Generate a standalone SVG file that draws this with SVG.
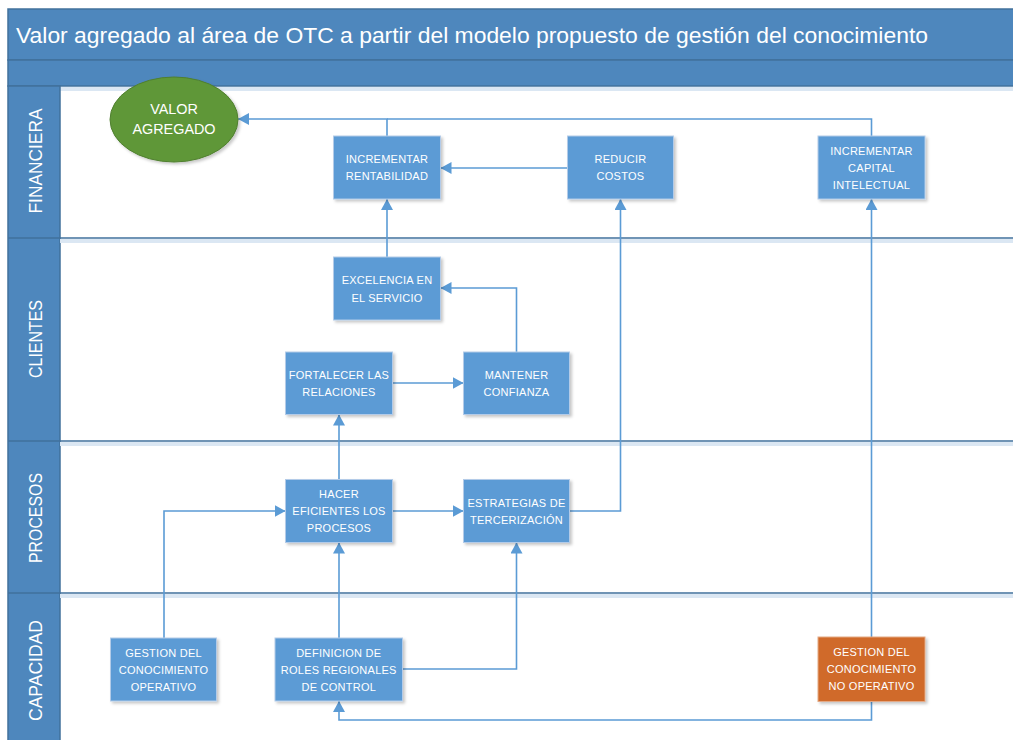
<svg xmlns="http://www.w3.org/2000/svg" width="1013" height="740" viewBox="0 0 1013 740">
<style>
.band{fill:#4e87bd;stroke:#41719c;stroke-width:1.5}
.lane{stroke:#41719c;stroke-width:1.5}
.lshadow{stroke:#dbe7f3;stroke-width:4}
.title{font-family:"Liberation Sans",Arial,sans-serif;font-size:22px;fill:#ffffff}
.lbl{font-family:"Liberation Sans",Arial,sans-serif;font-size:19px;fill:#ffffff;text-anchor:middle}
.box{fill:#5b9bd5;stroke:#b3cbe8;stroke-width:1}
.obox{fill:#d06b29;stroke:#e3a986;stroke-width:1}
.t{font-family:"Liberation Sans",Arial,sans-serif;font-size:11px;letter-spacing:0.25px;fill:#ffffff;text-anchor:middle}
.tv{font-family:"Liberation Sans",Arial,sans-serif;font-size:14.4px;fill:#ffffff;text-anchor:middle}
.c{fill:none;stroke:#5b9bd5;stroke-width:1.6}
</style>
<defs>
<marker id="ah" markerUnits="userSpaceOnUse" markerWidth="12" markerHeight="12" refX="11" refY="6" orient="auto">
<path d="M0,0 L11,6 L0,12 z" fill="#5b9bd5"/>
</marker>
<filter id="sh" x="-20%" y="-20%" width="140%" height="140%">
<feDropShadow dx="2" dy="2" stdDeviation="1.5" flood-color="#000000" flood-opacity="0.22"/>
</filter>
</defs>
<rect width="1013" height="740" fill="#ffffff"/>
<g id="pool">
<rect class="band" x="8" y="9" width="1010" height="51"/>
<rect class="band" x="8" y="60" width="1010" height="26"/>
<line class="lshadow" x1="60" y1="89" x2="1013" y2="89"/>
<rect class="band" x="8" y="86" width="52" height="670"/>
<line class="lshadow" x1="60" y1="241" x2="1013" y2="241"/>
<line class="lshadow" x1="60" y1="444" x2="1013" y2="444"/>
<line class="lshadow" x1="60" y1="596" x2="1013" y2="596"/>
<line class="lane" x1="8" y1="238" x2="1013" y2="238"/>
<line class="lane" x1="8" y1="441" x2="1013" y2="441"/>
<line class="lane" x1="8" y1="593" x2="1013" y2="593"/>
<text class="title" x="16" y="43" textLength="912" lengthAdjust="spacingAndGlyphs">Valor agregado al área de OTC a partir del modelo propuesto de gestión del conocimiento</text>
<text class="lbl" transform="translate(42,161) rotate(-90)" textLength="105" lengthAdjust="spacingAndGlyphs">FINANCIERA</text>
<text class="lbl" transform="translate(42,339) rotate(-90)" textLength="78" lengthAdjust="spacingAndGlyphs">CLIENTES</text>
<text class="lbl" transform="translate(42,518) rotate(-90)" textLength="90" lengthAdjust="spacingAndGlyphs">PROCESOS</text>
<text class="lbl" transform="translate(42,670.5) rotate(-90)" textLength="101" lengthAdjust="spacingAndGlyphs">CAPACIDAD</text>
</g>
<g id="connectors">
<path class="c" d="M164,638 V511 H285.5" marker-end="url(#ah)"/>
<path class="c" d="M339,638 V542.5" marker-end="url(#ah)"/>
<path class="c" d="M402.5,669 H516.5 V542.5" marker-end="url(#ah)"/>
<path class="c" d="M871.5,701.5 V720 H339 V701" marker-end="url(#ah)"/>
<path class="c" d="M871.5,637 V199" marker-end="url(#ah)"/>
<path class="c" d="M392.5,511 H463.5" marker-end="url(#ah)"/>
<path class="c" d="M339,479.5 V414.5" marker-end="url(#ah)"/>
<path class="c" d="M569.5,511 H620.5 V199" marker-end="url(#ah)"/>
<path class="c" d="M392.5,383 H463.5" marker-end="url(#ah)"/>
<path class="c" d="M516.5,352 V288 H440.5" marker-end="url(#ah)"/>
<path class="c" d="M387,257 V199" marker-end="url(#ah)"/>
<path class="c" d="M567.5,168 H440.5" marker-end="url(#ah)"/>
<path class="c" d="M387,136 V119 H238" marker-end="url(#ah)"/>
<path class="c" d="M871.5,136 V119 H387"/>
</g>
<g id="valor-agregado">
<ellipse cx="174" cy="119.5" rx="64" ry="42.5" fill="#5f9738" stroke="#4f7f2f" stroke-width="1" filter="url(#sh)"/>
<text class="tv" x="174" y="114">VALOR</text>
<text class="tv" x="174" y="134">AGREGADO</text>
</g>
<g id="incrementar-rentabilidad">
<rect class="box" x="333.5" y="136" width="107" height="63" filter="url(#sh)"/>
<text class="t" x="387" y="163">INCREMENTAR</text>
<text class="t" x="387" y="180">RENTABILIDAD</text>
</g>
<g id="reducir-costos">
<rect class="box" x="567.5" y="136" width="106" height="63" filter="url(#sh)"/>
<text class="t" x="620.5" y="163">REDUCIR</text>
<text class="t" x="620.5" y="180">COSTOS</text>
</g>
<g id="incrementar-capital">
<rect class="box" x="818" y="136" width="107" height="63" filter="url(#sh)"/>
<text class="t" x="871.5" y="154.5">INCREMENTAR</text>
<text class="t" x="871.5" y="171.5">CAPITAL</text>
<text class="t" x="871.5" y="188.5">INTELECTUAL</text>
</g>
<g id="excelencia-servicio">
<rect class="box" x="333.5" y="257" width="107" height="63" filter="url(#sh)"/>
<text class="t" x="387" y="284">EXCELENCIA EN</text>
<text class="t" x="387" y="301.5">EL SERVICIO</text>
</g>
<g id="fortalecer-relaciones">
<rect class="box" x="285.5" y="352" width="107" height="62.5" filter="url(#sh)"/>
<text class="t" x="339" y="379">FORTALECER LAS</text>
<text class="t" x="339" y="396">RELACIONES</text>
</g>
<g id="mantener-confianza">
<rect class="box" x="463.5" y="352" width="106" height="62.5" filter="url(#sh)"/>
<text class="t" x="516.5" y="379">MANTENER</text>
<text class="t" x="516.5" y="396">CONFIANZA</text>
</g>
<g id="hacer-eficientes">
<rect class="box" x="285.5" y="479.5" width="107" height="63" filter="url(#sh)"/>
<text class="t" x="339" y="498">HACER</text>
<text class="t" x="339" y="515">EFICIENTES LOS</text>
<text class="t" x="339" y="532">PROCESOS</text>
</g>
<g id="estrategias-tercerizacion">
<rect class="box" x="463.5" y="479.5" width="106" height="63" filter="url(#sh)"/>
<text class="t" x="516.5" y="507">ESTRATEGIAS DE</text>
<text class="t" x="516.5" y="524">TERCERIZACIÓN</text>
</g>
<g id="gestion-operativo">
<rect class="box" x="110.5" y="638" width="106" height="63" filter="url(#sh)"/>
<text class="t" x="163.5" y="656.5">GESTION DEL</text>
<text class="t" x="163.5" y="673.5">CONOCIMIENTO</text>
<text class="t" x="163.5" y="690.5">OPERATIVO</text>
</g>
<g id="definicion-roles">
<rect class="box" x="275" y="638" width="127.5" height="63" filter="url(#sh)"/>
<text class="t" x="338.75" y="656.5">DEFINICION DE</text>
<text class="t" x="338.75" y="673.5">ROLES REGIONALES</text>
<text class="t" x="338.75" y="690.5">DE CONTROL</text>
</g>
<g id="gestion-no-operativo">
<rect class="obox" x="818" y="637" width="107" height="64.5" filter="url(#sh)"/>
<text class="t" x="871.5" y="656">GESTION DEL</text>
<text class="t" x="871.5" y="673">CONOCIMIENTO</text>
<text class="t" x="871.5" y="690">NO OPERATIVO</text>
</g>
</svg>
